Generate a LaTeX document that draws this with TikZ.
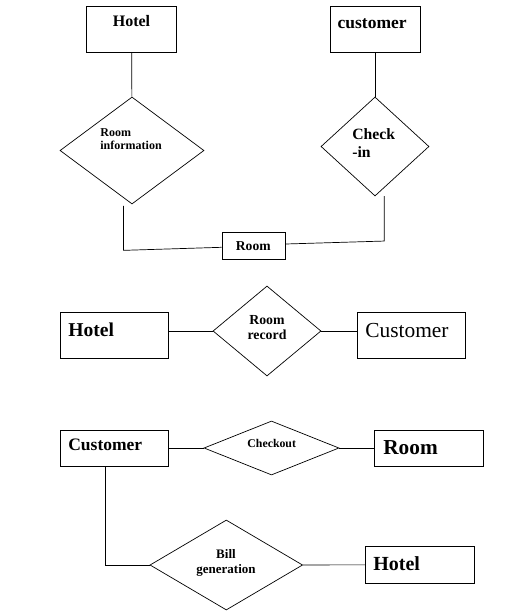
\documentclass[tikz,border=0pt]{standalone}
\usepackage{fontspec}
\setmainfont{Liberation Serif}
\usetikzlibrary{shapes.geometric}

\tikzset{
  ent/.style={draw, rectangle, inner sep=0pt},
  rel/.style={draw, diamond, inner sep=0pt},
  txt/.style={inner sep=0pt, font=\bfseries\fontsize{#1}{#1}\selectfont},
  reg/.style={inner sep=0pt, font=\fontsize{#1}{#1}\selectfont},
}

\begin{document}
\begin{tikzpicture}[x=1pt,y=-1pt,line width=0.7pt]
\useasboundingbox (0,0) rectangle (507,613);

% hotel -- room information -- room -- check-in -- customer
\node[ent,minimum width=90pt,minimum height=45.3pt] (hotelA) at (131.7,29.3) {};
\node[txt=16,anchor=base] (hotelAtxt) at (131.5,26.7) {Hotel};
\node[ent,minimum width=90pt,minimum height=45.3pt] (custA) at (375,29.3) {};
\node[txt=17.5,anchor=base west] (custAtxt) at (337.3,28.3) {customer};
\node[rel,minimum width=144pt,minimum height=107pt] (roomInfo) at (132,150.5) {};
\node[txt=12,anchor=base west] (roomInfoA) at (100,136.7) {Room};
\node[txt=12,anchor=base west] (roomInfoB) at (100,149.3) {information};
\node[rel,minimum width=108pt,minimum height=99pt] (checkIn) at (375,146.5) {};
\node[txt=15.7,anchor=base west] (checkInA) at (352,139.3) {Check};
\node[txt=15.7,anchor=base west] (checkInB) at (352,157.7) {-in};
\node[ent,minimum width=63.3pt,minimum height=27pt] (roomA) at (253.7,245.8) {};
\node[txt=13.6,anchor=base] (roomAtxt) at (253.3,250) {Room};
\draw (hotelA) -- (roomInfo);
\draw (custA) -- (checkIn);
\draw ([xshift=-8.5pt,yshift=-1.5pt]roomInfo.south) -- ++(0,44.5) -- ([yshift=-1.5pt]roomA.west);
\draw ([yshift=1.8pt]roomA.east) -- ([xshift=9.3pt,yshift=-44.7pt]checkIn.south) -- (384.3,196);

% hotel -- room record -- customer
\node[ent,minimum width=108pt,minimum height=45.3pt] (hotelB) at (114,335.3) {};
\node[txt=19.6,anchor=base west] (hotelBtxt) at (68,336) {Hotel};
\node[rel,minimum width=108pt,minimum height=90pt] (roomRec) at (267,331) {};
\node[txt=13.8,anchor=base] (roomRecA) at (267,324.3) {Room};
\node[txt=13.8,anchor=base] (roomRecB) at (267,339.3) {record};
\node[ent,minimum width=108pt,minimum height=45.3pt] (custB) at (411,335.3) {};
\node[reg=21.4,anchor=base west] (custBtxt) at (365,337.7) {Customer};
\draw (roomRec.west) -- (roomRec.west -| hotelB.east);
\draw (roomRec.east) -- (roomRec.east -| custB.west);

% customer -- checkout -- room, customer -- bill generation -- hotel
\node[ent,minimum width=108pt,minimum height=36pt] (custC) at (114,448) {};
\node[txt=17.5,anchor=base west] (custCtxt) at (68,450.7) {Customer};
\node[rel,minimum width=135pt,minimum height=54pt] (checkOut) at (271.5,448) {};
\node[txt=11.8,anchor=base] (checkOutTxt) at (271.7,447.3) {Checkout};
\node[ent,minimum width=109pt,minimum height=36pt] (roomC) at (428.5,448) {};
\node[txt=21.3,anchor=base west] (roomCtxt) at (383,454.3) {Room};
\node[rel,minimum width=152.7pt,minimum height=90pt] (bill) at (226.3,565) {};
\node[txt=13,anchor=base] (billA) at (226,558.3) {Bill};
\node[txt=13,anchor=base] (billB) at (226,573.3) {generation};
\node[ent,minimum width=108.3pt,minimum height=36.3pt] (hotelC) at (419.8,564.8) {};
\node[txt=20,anchor=base west] (hotelCtxt) at (373,570) {Hotel};
\draw (custC) -- (checkOut);
\draw (checkOut) -- (roomC);
\draw ([xshift=-9pt]custC.south) |- (bill.west);
\draw (bill) -- (hotelC);
\end{tikzpicture}
\end{document}
